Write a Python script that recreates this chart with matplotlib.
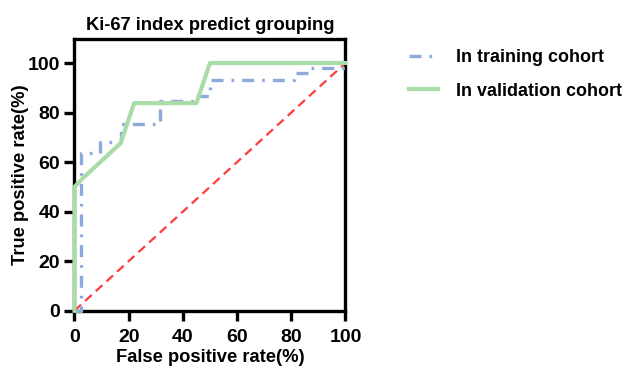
import matplotlib
matplotlib.use("Agg")
import matplotlib.pyplot as plt

plt.rcParams['font.family'] = ['Liberation Sans', 'DejaVu Sans']
plt.rcParams['font.weight'] = 'bold'

train_fpr = [0, 2.5, 2.5, 9.3, 9.3, 17.3, 17.3, 31.5, 31.5, 44.4, 44.4, 50, 50, 81, 81, 86.5, 86.5, 100, 100]
train_tpr = [0, 0, 63.5, 63.5, 68.2, 68.2, 75.3, 75.3, 84.5, 84.5, 86.5, 86.5, 93.2, 93.2, 96, 96, 98, 98, 100]

valid_fpr = [0, 0, 3, 17, 22, 45, 50, 100]
valid_tpr = [0, 50, 53.4, 67.6, 83.8, 83.8, 100, 100]

ref_x = [0, 100]
ref_y = [0, 100]

xticks = [0, 20, 40, 60, 80, 100]
yticks = [0, 20, 40, 60, 80, 100]

fig = plt.figure(figsize=(6.27, 3.70), dpi=100)
ax = fig.add_axes([0.1188, 0.1603, 0.4322, 0.733])

ax.plot(ref_x, ref_y, color='#ff3b3b', lw=1.6, ls=(0, (4, 2.5)), zorder=2)
ax.plot(train_fpr, train_tpr, color='#8eaadb', lw=2.4, ls=(0, (3.6, 2.4, 0.8, 2.4)),
        label='In training cohort', zorder=3)
ax.plot(valid_fpr, valid_tpr, color='#a9dca6', lw=3.0, label='In validation cohort', zorder=4)

ax.set_xlim(0, 100)
ax.set_ylim(0, 109.5)
ax.set_xticks(xticks)
ax.set_yticks(yticks)
ax.set_xticklabels([str(v) for v in xticks], fontsize=14, fontweight='bold')
ax.set_yticklabels([str(v) for v in yticks], fontsize=14, fontweight='bold')
for s in ax.spines.values():
    s.set_linewidth(2.4)
ax.tick_params(axis='x', width=2.4, length=7.5, direction='out', pad=5.5)
ax.tick_params(axis='y', width=2.4, length=7.5, direction='out', pad=3)
for ln in ax.lines:
    ln.set_clip_on(False)

ax.set_xlabel('False positive rate(%)', fontsize=13.2, fontweight='bold', labelpad=2)
ax.set_ylabel('True positive rate(%)', fontsize=13.2, fontweight='bold', labelpad=-1)
ax.set_title('Ki-67 index predict grouping', fontsize=13.2, fontweight='bold', pad=7)

leg = fig.legend(loc='upper left', bbox_to_anchor=(0.627, 0.91), frameon=False,
                 fontsize=12.9, handlelength=1.6, handletextpad=1.0, labelspacing=0.9)
for t in leg.get_texts():
    t.set_fontweight('bold')

fig.savefig('out.png', dpi=100)
